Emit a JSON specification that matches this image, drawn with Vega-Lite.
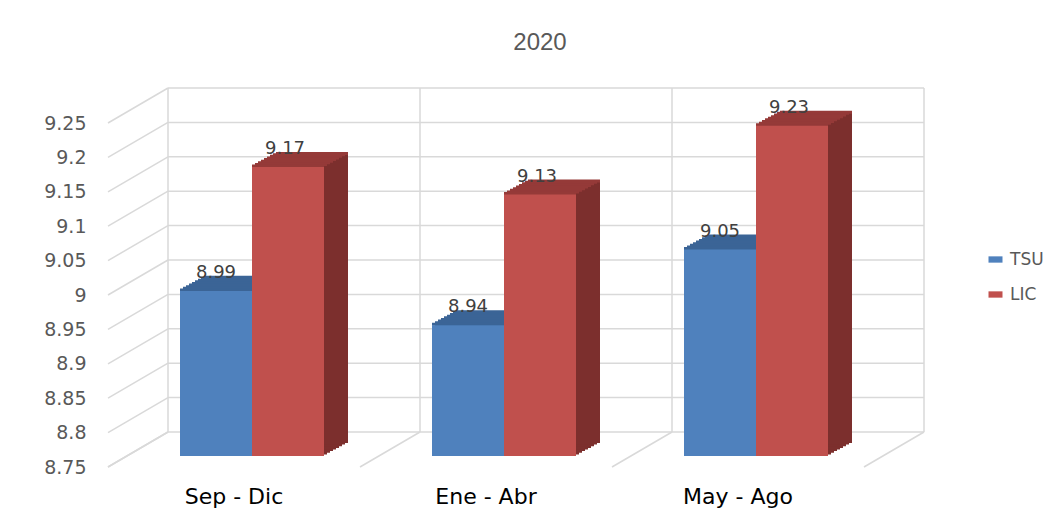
{
"$schema": "https://vega.github.io/schema/vega-lite/v6.json",
"width": 756,
"height": 344,
"autosize": {"type": "none"},
"padding": {"left": 108, "top": 123, "right": 198, "bottom": 41},
"background": "white",
"title": {"text": "2020", "font": "Liberation Sans", "fontSize": 24, "fontWeight": "normal", "color": "#595959", "anchor": "middle", "frame": "group", "dx": 54, "offset": 32},
"datasets": {
  "barras": [
    {"periodo": "Sep - Dic", "serie": "TSU", "valor": 8.99},
    {"periodo": "Sep - Dic", "serie": "LIC", "valor": 9.17},
    {"periodo": "Ene - Abr", "serie": "TSU", "valor": 8.94},
    {"periodo": "Ene - Abr", "serie": "LIC", "valor": 9.13},
    {"periodo": "May - Ago", "serie": "TSU", "valor": 9.05},
    {"periodo": "May - Ago", "serie": "LIC", "valor": 9.23}
  ],
  "marcas": [{"v": 8.75}, {"v": 8.8}, {"v": 8.85}, {"v": 8.9}, {"v": 8.95}, {"v": 9}, {"v": 9.05}, {"v": 9.1}, {"v": 9.15}, {"v": 9.2}, {"v": 9.25}],
  "bordes": [{"b": 0}, {"b": 1}, {"b": 2}, {"b": 3}]
},
"resolve": {"scale": {"x": "independent"}},
"layer": [
  {
    "layer": [
      {
        "data": {"name": "marcas"},
        "mark": {"type": "rule", "color": "#d9d9d9", "strokeWidth": 1.5, "xOffset": 60, "x2Offset": 60, "yOffset": -35},
        "encoding": {
          "x": {"datum": 0, "type": "quantitative", "scale": {"domain": [0, 3], "nice": false, "zero": false}, "axis": null},
          "x2": {"datum": 3},
          "y": {"field": "v", "type": "quantitative", "title": null, "scale": {"domain": [8.75, 9.25], "nice": false, "zero": false},
                "axis": {"values": [8.75, 8.8, 8.85, 8.9, 8.95, 9, 9.05, 9.1, 9.15, 9.2, 9.25], "tickCount": 30, "format": ".3~g", "labelOverlap": false, "labelFont": "DejaVu Sans", "labelFontSize": 19, "labelColor": "#595959", "domain": false, "ticks": false, "grid": false, "labelPadding": 22, "title": null}}
        }
      },
      {
        "data": {"name": "marcas"},
        "mark": {"type": "rule", "color": "#d9d9d9", "strokeWidth": 1.5, "x2Offset": 60, "y2Offset": -35},
        "encoding": {
          "x": {"datum": 0, "type": "quantitative", "axis": null},
          "x2": {"datum": 0},
          "y": {"field": "v", "type": "quantitative", "title": null},
          "y2": {"field": "v"}
        }
      },
      {
        "data": {"name": "bordes"},
        "mark": {"type": "rule", "color": "#d9d9d9", "strokeWidth": 1.5, "x2Offset": 60, "y2Offset": -35},
        "encoding": {
          "x": {"field": "b", "type": "quantitative", "axis": null},
          "x2": {"field": "b"},
          "y": {"datum": 8.75, "type": "quantitative", "title": null},
          "y2": {"datum": 8.75}
        }
      },
      {
        "data": {"name": "bordes"},
        "mark": {"type": "rule", "color": "#d9d9d9", "strokeWidth": 1.5, "xOffset": 60, "yOffset": -35, "y2Offset": -35},
        "encoding": {
          "x": {"field": "b", "type": "quantitative", "axis": null},
          "y": {"datum": 9.25, "type": "quantitative", "title": null},
          "y2": {"datum": 8.75}
        }
      }
    ]
  },
  {
    "data": {"name": "barras"},
    "encoding": {
      "x": {"field": "periodo", "type": "nominal", "sort": ["Sep - Dic", "Ene - Abr", "May - Ago"],
            "scale": {"domain": ["Sep - Dic", "Ene - Abr", "May - Ago"], "paddingInner": 0, "paddingOuter": 0},
            "axis": {"labelFont": "DejaVu Sans", "labelFontSize": 22, "labelColor": "#000000", "labelAngle": 0, "domain": false, "ticks": false, "labelPadding": 19, "title": null}},
      "y": {"field": "valor", "type": "quantitative", "title": null, "scale": {"domain": [8.75, 9.25], "nice": false, "zero": false}}
    },
    "layer": [
      {
        "transform": [{"filter": "datum.serie === 'TSU'"}],
        "layer": [
          {"mark": {"type": "bar", "width": 72, "color": "#2f5580", "xOffset": -15, "yOffset": -12.6, "y2Offset": -12.6}, "encoding": {"y2": {"datum": 8.75}}},
          {"mark": {"type": "bar", "width": 72, "color": "#2f5580", "xOffset": -12, "yOffset": -14.25, "y2Offset": -14.25}, "encoding": {"y2": {"datum": 8.75}}},
          {"mark": {"type": "bar", "width": 72, "color": "#2f5580", "xOffset": -9, "yOffset": -15.9, "y2Offset": -15.9}, "encoding": {"y2": {"datum": 8.75}}},
          {"mark": {"type": "bar", "width": 72, "color": "#2f5580", "xOffset": -6, "yOffset": -17.5, "y2Offset": -17.5}, "encoding": {"y2": {"datum": 8.75}}},
          {"mark": {"type": "bar", "width": 72, "color": "#2f5580", "xOffset": -3, "yOffset": -19.1, "y2Offset": -19.1}, "encoding": {"y2": {"datum": 8.75}}},
          {"mark": {"type": "bar", "width": 72, "color": "#2f5580", "xOffset": 0, "yOffset": -20.75, "y2Offset": -20.75}, "encoding": {"y2": {"datum": 8.75}}},
          {"mark": {"type": "bar", "width": 72, "color": "#2f5580", "xOffset": 3, "yOffset": -22.4, "y2Offset": -22.4}, "encoding": {"y2": {"datum": 8.75}}},
          {"mark": {"type": "bar", "width": 72, "color": "#2f5580", "xOffset": 6, "yOffset": -24, "y2Offset": -24}, "encoding": {"y2": {"datum": 8.75}}},
          {"mark": {"type": "tick", "orient": "horizontal", "size": 72, "thickness": 3, "opacity": 1, "color": "#3b6496", "xOffset": -18, "yOffset": -12}},
          {"mark": {"type": "tick", "orient": "horizontal", "size": 72, "thickness": 3, "opacity": 1, "color": "#3b6496", "xOffset": -15, "yOffset": -13.6}},
          {"mark": {"type": "tick", "orient": "horizontal", "size": 72, "thickness": 3, "opacity": 1, "color": "#3b6496", "xOffset": -12, "yOffset": -15.25}},
          {"mark": {"type": "tick", "orient": "horizontal", "size": 72, "thickness": 3, "opacity": 1, "color": "#3b6496", "xOffset": -9, "yOffset": -16.9}},
          {"mark": {"type": "tick", "orient": "horizontal", "size": 72, "thickness": 3, "opacity": 1, "color": "#3b6496", "xOffset": -6, "yOffset": -18.5}},
          {"mark": {"type": "tick", "orient": "horizontal", "size": 72, "thickness": 3, "opacity": 1, "color": "#3b6496", "xOffset": -3, "yOffset": -20.1}},
          {"mark": {"type": "tick", "orient": "horizontal", "size": 72, "thickness": 3, "opacity": 1, "color": "#3b6496", "xOffset": 0, "yOffset": -21.75}},
          {"mark": {"type": "tick", "orient": "horizontal", "size": 72, "thickness": 3, "opacity": 1, "color": "#3b6496", "xOffset": 3, "yOffset": -23.4}},
          {"mark": {"type": "tick", "orient": "horizontal", "size": 72, "thickness": 3, "opacity": 1, "color": "#3b6496", "xOffset": 6, "yOffset": -24.6}},
          {"mark": {"type": "bar", "width": 72, "xOffset": -18, "yOffset": -11, "y2Offset": -11},
           "encoding": {"y2": {"datum": 8.75},
             "color": {"field": "serie", "type": "nominal", "scale": {"domain": ["TSU", "LIC"], "range": ["#4f81bd", "#c0504d"]},
               "legend": {"orient": "none", "legendX": 879, "legendY": 128, "direction": "vertical", "title": null, "symbolType": "M-1,-0.45H1V0.45H-1Z", "symbolSize": 196, "symbolStrokeWidth": 0, "symbolOpacity": 1, "labelFont": "DejaVu Sans", "labelFontSize": 17, "labelColor": "#595959", "rowPadding": 17, "labelOffset": 6, "padding": 0}}}},
          {"mark": {"type": "text", "font": "DejaVu Sans", "fontSize": 18, "color": "#404040", "baseline": "alphabetic", "align": "center", "xOffset": -18, "yOffset": -24},
           "encoding": {"text": {"field": "valor", "type": "quantitative", "format": ".2f"}}}
        ]
      },
      {
        "transform": [{"filter": "datum.serie === 'LIC'"}],
        "layer": [
          {"mark": {"type": "bar", "width": 72, "color": "#7c2f2d", "xOffset": 57, "yOffset": -12.6, "y2Offset": -12.6}, "encoding": {"y2": {"datum": 8.75}}},
          {"mark": {"type": "bar", "width": 72, "color": "#7c2f2d", "xOffset": 60, "yOffset": -14.25, "y2Offset": -14.25}, "encoding": {"y2": {"datum": 8.75}}},
          {"mark": {"type": "bar", "width": 72, "color": "#7c2f2d", "xOffset": 63, "yOffset": -15.9, "y2Offset": -15.9}, "encoding": {"y2": {"datum": 8.75}}},
          {"mark": {"type": "bar", "width": 72, "color": "#7c2f2d", "xOffset": 66, "yOffset": -17.5, "y2Offset": -17.5}, "encoding": {"y2": {"datum": 8.75}}},
          {"mark": {"type": "bar", "width": 72, "color": "#7c2f2d", "xOffset": 69, "yOffset": -19.1, "y2Offset": -19.1}, "encoding": {"y2": {"datum": 8.75}}},
          {"mark": {"type": "bar", "width": 72, "color": "#7c2f2d", "xOffset": 72, "yOffset": -20.75, "y2Offset": -20.75}, "encoding": {"y2": {"datum": 8.75}}},
          {"mark": {"type": "bar", "width": 72, "color": "#7c2f2d", "xOffset": 75, "yOffset": -22.4, "y2Offset": -22.4}, "encoding": {"y2": {"datum": 8.75}}},
          {"mark": {"type": "bar", "width": 72, "color": "#7c2f2d", "xOffset": 78, "yOffset": -24, "y2Offset": -24}, "encoding": {"y2": {"datum": 8.75}}},
          {"mark": {"type": "tick", "orient": "horizontal", "size": 72, "thickness": 3, "opacity": 1, "color": "#953a38", "xOffset": 54, "yOffset": -12}},
          {"mark": {"type": "tick", "orient": "horizontal", "size": 72, "thickness": 3, "opacity": 1, "color": "#953a38", "xOffset": 57, "yOffset": -13.6}},
          {"mark": {"type": "tick", "orient": "horizontal", "size": 72, "thickness": 3, "opacity": 1, "color": "#953a38", "xOffset": 60, "yOffset": -15.25}},
          {"mark": {"type": "tick", "orient": "horizontal", "size": 72, "thickness": 3, "opacity": 1, "color": "#953a38", "xOffset": 63, "yOffset": -16.9}},
          {"mark": {"type": "tick", "orient": "horizontal", "size": 72, "thickness": 3, "opacity": 1, "color": "#953a38", "xOffset": 66, "yOffset": -18.5}},
          {"mark": {"type": "tick", "orient": "horizontal", "size": 72, "thickness": 3, "opacity": 1, "color": "#953a38", "xOffset": 69, "yOffset": -20.1}},
          {"mark": {"type": "tick", "orient": "horizontal", "size": 72, "thickness": 3, "opacity": 1, "color": "#953a38", "xOffset": 72, "yOffset": -21.75}},
          {"mark": {"type": "tick", "orient": "horizontal", "size": 72, "thickness": 3, "opacity": 1, "color": "#953a38", "xOffset": 75, "yOffset": -23.4}},
          {"mark": {"type": "tick", "orient": "horizontal", "size": 72, "thickness": 3, "opacity": 1, "color": "#953a38", "xOffset": 78, "yOffset": -24.6}},
          {"mark": {"type": "bar", "width": 72, "xOffset": 54, "yOffset": -11, "y2Offset": -11},
           "encoding": {"y2": {"datum": 8.75},
             "color": {"field": "serie", "type": "nominal", "scale": {"domain": ["TSU", "LIC"], "range": ["#4f81bd", "#c0504d"]}}}},
          {"mark": {"type": "text", "font": "DejaVu Sans", "fontSize": 18, "color": "#404040", "baseline": "alphabetic", "align": "center", "xOffset": 51, "yOffset": -24},
           "encoding": {"text": {"field": "valor", "type": "quantitative", "format": ".2f"}}}
        ]
      }
    ]
  }
],
"config": {"view": {"stroke": null}}
}
